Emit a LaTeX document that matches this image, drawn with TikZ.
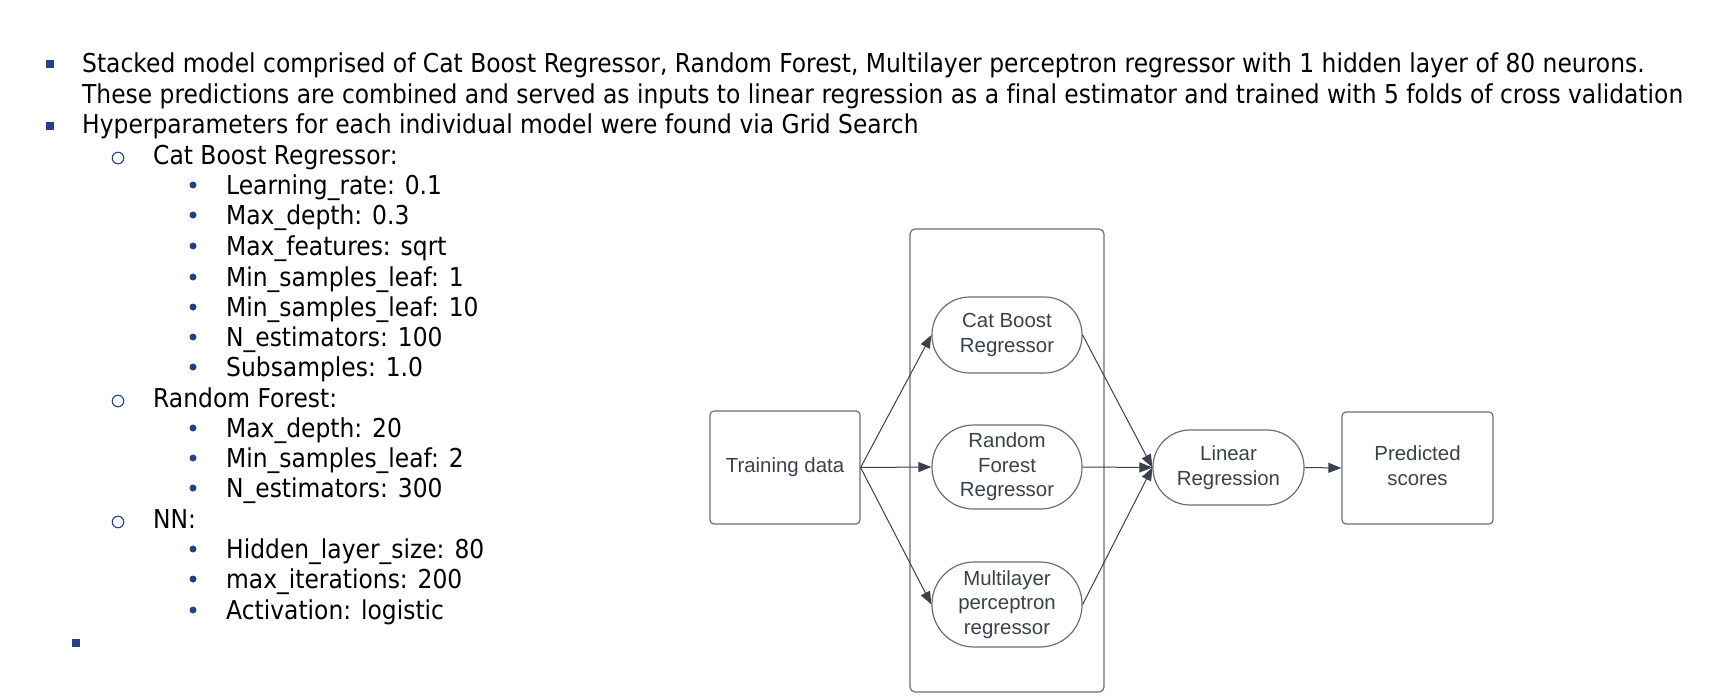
\documentclass[tikz,border=0pt]{standalone}
\usepackage{fontspec}
\setmainfont{DejaVu Sans}[FakeStretch=0.9, Ligatures=NoCommon]
\newfontfamily\diagfont{Liberation Sans}
\usetikzlibrary{arrows.meta}
\definecolor{bulletblue}{HTML}{24408A}
\definecolor{dtext}{HTML}{3A414A}
\definecolor{dline}{HTML}{6E6E6E}
\definecolor{darrow}{HTML}{3A414A}
\tikzset{
  listtext/.style={anchor=base west, inner sep=0pt, font=\fontsize{26}{30}\selectfont, text=black},
  sqbullet/.style={rectangle, fill=bulletblue, minimum size=7.5pt, inner sep=0pt},
  circbullet/.style={circle, draw=bulletblue, line width=1.1pt, minimum size=11.5pt, inner sep=0pt},
  dotbullet/.style={circle, fill=bulletblue, minimum size=7pt, inner sep=0pt},
  dgtext/.style={font=\diagfont\fontsize{20.4}{24.5}\selectfont, text=dtext, align=center, inner sep=0pt},
  box/.style={dgtext, draw=dline, line width=1.2pt, rounded corners=4pt, minimum width=150pt, minimum height=113pt},
  pill/.style={dgtext, draw=dline, line width=1.2pt, minimum width=150pt},
  container/.style={draw=dline, line width=1.2pt, rounded corners=5pt, minimum width=194pt, minimum height=463pt, inner sep=0pt},
  conn/.style={-{Triangle[length=13pt,width=10pt]}, draw=darrow, line width=1pt}
}
\begin{document}
\begin{tikzpicture}[x=1pt,y=-1pt]
\useasboundingbox (0,0) rectangle (1720,698);
% ---- bullet list ----
\node[sqbullet] (b1) at (50,64) {};
\node[listtext] (l1) at (82,73) {Stacked model comprised of Cat Boost Regressor, Random Forest, Multilayer perceptron regressor with 1 hidden layer of 80 neurons.};
\node[listtext] (l2) at (82,103) {These predictions are combined and served as inputs to linear regression as a final estimator and trained with 5 folds of cross validation};
\node[sqbullet] (b2) at (50,126) {};
\node[listtext] (l3) at (82,134) {Hyperparameters for each individual model were found via Grid Search};
\node[circbullet] (c1) at (118,158) {};
\node[listtext] (l4) at (153,164) {Cat Boost Regressor:};
\node[dotbullet] (d1) at (193,185) {};
\node[listtext] (l5) at (226,194) {Learning\_rate: 0.1};
\node[dotbullet] (d2) at (193,215) {};
\node[listtext] (l6) at (226,224) {Max\_depth: 0.3};
\node[dotbullet] (d3) at (193,246) {};
\node[listtext] (l7) at (226,255) {Max\_features: sqrt};
\node[dotbullet] (d4) at (193,277) {};
\node[listtext] (l8) at (226,286) {Min\_samples\_leaf: 1};
\node[dotbullet] (d5) at (193,307) {};
\node[listtext] (l9) at (226,316) {Min\_samples\_leaf: 10};
\node[dotbullet] (d6) at (193,337) {};
\node[listtext] (l10) at (226,346) {N\_estimators: 100};
\node[dotbullet] (d7) at (193,367) {};
\node[listtext] (l11) at (226,376) {Subsamples: 1.0};
\node[circbullet] (c2) at (118,401) {};
\node[listtext] (l12) at (153,407) {Random Forest:};
\node[dotbullet] (d8) at (193,428) {};
\node[listtext] (l13) at (226,437) {Max\_depth: 20};
\node[dotbullet] (d9) at (193,458) {};
\node[listtext] (l14) at (226,467) {Min\_samples\_leaf: 2};
\node[dotbullet] (d10) at (193,488) {};
\node[listtext] (l15) at (226,497) {N\_estimators: 300};
\node[circbullet] (c3) at (118,522) {};
\node[listtext] (l16) at (153,528) {NN:};
\node[dotbullet] (d11) at (193,549) {};
\node[listtext] (l17) at (226,558) {Hidden\_layer\_size: 80};
\node[dotbullet] (d12) at (193,579) {};
\node[listtext] (l18) at (226,588) {max\_iterations: 200};
\node[dotbullet] (d13) at (193,610) {};
\node[listtext] (l19) at (226,619) {Activation: logistic};
\node[sqbullet] (b3) at (76,643) {};
% ---- diagram ----
\node[container] (stack) at (1007,460.5) {};
\node[box] (td) at (785,467.5) {Training data};
\node[pill, minimum height=76pt, rounded corners=37.5pt] (cb) at (1007,335) {Cat Boost\\Regressor};
\node[pill, minimum height=84pt, rounded corners=41.5pt] (rf) at (1007,467) {Random\\Forest\\Regressor};
\node[pill, minimum height=85pt, rounded corners=42pt] (mlp) at (1007,604.5) {Multilayer\\perceptron\\regressor};
\node[pill, minimum width=151pt, minimum height=75pt, rounded corners=37pt] (lr) at (1228.5,467.5) {Linear\\Regression};
\node[box, minimum width=151pt, minimum height=112pt] (ps) at (1417.5,468) {\raisebox{3pt}{\begin{tabular}{@{}c@{}}Predicted\\scores\end{tabular}}};
\draw[conn] (td.east) -- (cb.west);
\draw[conn] (td.east) -- (rf.west);
\draw[conn] (td.east) -- (mlp.west);
\draw[conn] (cb.east) -- (lr.west);
\draw[conn] (rf.east) -- (lr.west);
\draw[conn] (mlp.east) -- (lr.west);
\draw[conn] (lr.east) -- (ps.west);
\end{tikzpicture}
\end{document}
